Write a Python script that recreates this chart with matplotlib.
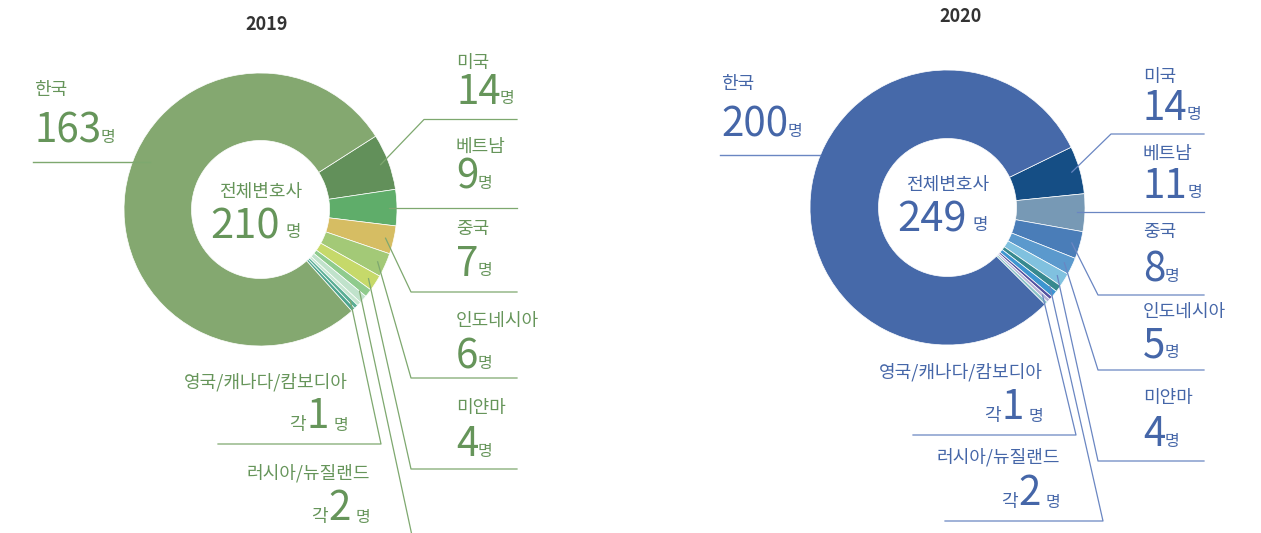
import numpy as np
import matplotlib
matplotlib.use('Agg')
import matplotlib.pyplot as plt

# 데이터 ------------------------------------------------------------------
countries = ['미국', '베트남', '중국', '인도네시아', '미얀마',
             '러시아', '뉴질랜드', '영국', '캐나다', '캄보디아', '한국']
values_2019 = [14, 9, 7, 6, 4, 2, 2, 1, 1, 1, 163]
values_2020 = [14, 11, 8, 5, 4, 2, 2, 1, 1, 1, 200]
total_2019 = 210
total_2020 = 249

colors_2019 = ['#62905a', '#5fad6a', '#d6bd63', '#a3c977', '#c6d96a',
               '#8fcb8d', '#c0e2cb', '#c6e6d0', '#5aae95', '#4ea58f', '#84a870']
colors_2020 = ['#154e85', '#7799b5', '#4a7db8', '#5b99cd', '#80c1df',
               '#37898f', '#3d95d0', '#5552a0', '#b8b4d8', '#8cc4c8', '#4669a9']

W, H = 1261, 533
KR = ['Noto Sans CJK KR', 'DejaVu Sans']
NUM = ['Liberation Sans Narrow', 'Noto Sans CJK KR', 'DejaVu Sans']

fig = plt.figure(figsize=(W / 100, H / 100), dpi=100)
ax = fig.add_axes([0, 0, 1, 1])


def Y(y):
    # 이미지 좌표(위에서 아래) -> 축 좌표
    return H - y


def num_left(x, y, num, color):
    t = ax.text(x, Y(y), num, ha='left', va='center', fontsize=29,
                family=NUM, fontweight='medium', color=color)
    ax.annotate('명', xy=(1, 0), xycoords=t, xytext=(-0.5, 4),
                textcoords='offset points', ha='left', va='bottom',
                fontsize=11.5, family=KR, color=color)
    return t


def num_right(x, y, num, color):
    m = ax.text(x, Y(y) - 10, '명', ha='right', va='baseline',
                fontsize=11.5, family=KR, color=color)
    t = ax.annotate(num, xy=(0, 0), xycoords=m, xytext=(-3, -2),
                    textcoords='offset points', ha='right', va='bottom',
                    fontsize=29, family=NUM, fontweight='medium', color=color)
    ax.annotate('각', xy=(0, 0), xycoords=t, xytext=(-1, 2),
                textcoords='offset points', ha='right', va='bottom',
                fontsize=13, family=KR, color=color)


def draw_panel(values, colors, total, year, cx, cy, R, r, start,
               tcol, lcol, layout):
    wedges, _ = ax.pie(values, colors=colors, startangle=start,
                       counterclock=False, radius=R, center=(cx, Y(cy)),
                       wedgeprops=dict(width=R - r, edgecolor='white',
                                       linewidth=0.5))

    def point(idx_list, frac=0.94):
        a1 = min(wedges[i].theta1 for i in idx_list)
        a2 = max(wedges[i].theta2 for i in idx_list)
        a = np.deg2rad((a1 + a2) / 2)
        return cx + frac * R * np.cos(a), Y(cy) + frac * R * np.sin(a)

    # 제목 / 가운데
    ax.text(layout['title'][0], Y(layout['title'][1]), year, ha='center',
            va='center', fontsize=13, fontweight='bold', family=KR,
            color='#333333')
    ax.text(cx, Y(layout['center'][0]), '전체변호사', ha='center', va='center',
            fontsize=13, family=KR, color=tcol)
    t = ax.text(layout['center'][1], Y(layout['center'][2]), str(total),
                ha='center', va='center', fontsize=30, family=NUM,
                fontweight='medium', color=tcol)
    ax.annotate('명', xy=(1, 0), xycoords=t, xytext=(4, 5),
                textcoords='offset points', ha='left', va='bottom',
                fontsize=12, family=KR, color=tcol)

    # 한국
    kx, ky1, ky2, kline, kfrac = layout['korea']
    ax.text(kx, Y(ky1), '한국', ha='left', va='center', fontsize=13,
            family=KR, color=tcol)
    num_left(kx, ky2, str(values[-1]), tcol)
    dy = cy - kline
    ex = cx - np.sqrt((kfrac * R) ** 2 - dy ** 2)
    ax.plot([kx - 1, ex], [Y(kline), Y(kline)], color=lcol, lw=1)

    # 오른쪽 라벨
    rx, xend = layout['rx'], layout['xend']
    for i, (y1, y2, ly, ex_) in enumerate(layout['right']):
        ax.text(rx, Y(y1), countries[i], ha='left', va='center', fontsize=13,
                family=KR, color=tcol)
        num_left(rx, y2, str(values[i]), tcol)
        px, py = point([i])
        if ex_ is None:
            ax.plot([px, xend], [py, py], color=lcol, lw=0.9)
        else:
            ax.plot([px, ex_, xend], [py, Y(ly), Y(ly)], color=lcol, lw=0.9)

    # 아래 라벨 (각 1명 / 각 2명)
    groups = [([7, 8, 9], '영국/캐나다/캄보디아'), ([5, 6], '러시아/뉴질랜드')]
    for (idx, name), (x, y1, y2, ly, elx, x0) in zip(groups, layout['bottom']):
        ax.text(x, Y(y1), name, ha='right', va='center', fontsize=13,
                family=KR, color=tcol)
        num_right(x, y2, str(values[idx[0]]), tcol)
        px, py = point(idx)
        if x0 is None:
            ax.plot([px, elx], [py, Y(ly)], color=lcol, lw=0.9)
        else:
            ax.plot([px, elx, x0], [py, Y(ly), Y(ly)], color=lcol, lw=0.9)


draw_panel(values_2019, colors_2019, total_2019, '2019',
           cx=260.5, cy=209.5, R=136.5, r=69, start=32.5,
           tcol='#66955a', lcol='#7ea86f',
           layout=dict(title=(267, 24), center=(192, 245, 227),
                       korea=(34, 90, 131, 162, 0.88),
                       rx=456, xend=517,
                       right=[(63, 92, 119.5, 424), (147, 177, None, None),
                              (229, 264, 292, 411), (321, 357, 378, 411),
                              (408, 445, 469, 411)],
                       bottom=[(348, 382, 420, 444, 381, 218),
                               (370, 473, 512, 545, 414, None)]))

draw_panel(values_2020, colors_2020, total_2020, '2020',
           cx=947.5, cy=207.5, R=137.5, r=69, start=26,
           tcol='#4566a8', lcol='#6a86c2',
           layout=dict(title=(961, 16), center=(185, 932, 220),
                       korea=(721, 84, 125, 155, 1.0),
                       rx=1143, xend=1204,
                       right=[(77, 108.5, 134, 1111), (154, 186, None, None),
                              (232, 270, 295, 1098), (312, 346, 370, 1098),
                              (398, 435, 461, 1098)],
                       bottom=[(1043, 372, 411, 435, 1076, 913),
                               (1060, 457, 497, 521, 1103, 945)]))

ax.set_xlim(0, W)
ax.set_ylim(0, H)
ax.set_aspect('equal')
ax.axis('off')

fig.savefig('out.png', dpi=100)
